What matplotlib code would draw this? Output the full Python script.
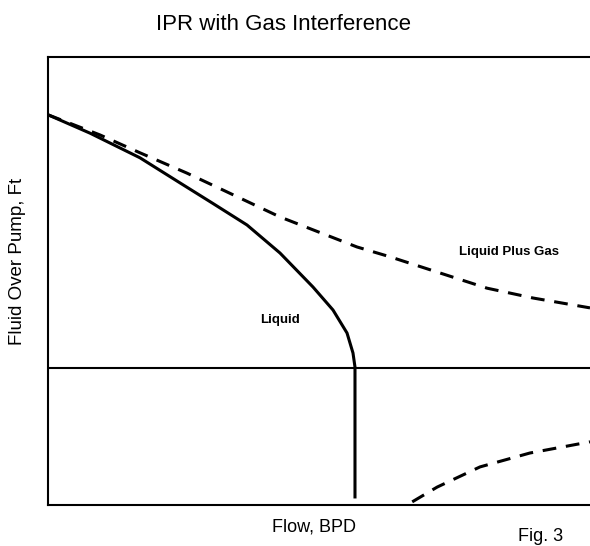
import matplotlib
matplotlib.use('Agg')
import matplotlib.pyplot as plt

plt.rcParams['font.family'] = ['Liberation Sans', 'DejaVu Sans']

# curves (flow and fluid level in relative units, 0..100)
liquid_flow = [0, 7.75, 16.97, 24.35, 30.44, 36.72, 42.80, 48.89, 52.58, 55.17,
               56.27, 56.64, 56.64]
liquid_level = [87.1, 83.0, 77.5, 71.9, 67.3, 62.5, 56.25, 48.66, 43.53, 38.39,
                33.93, 30.8, 1.8]

gas_flow = [0, 9.6, 17.0, 25.6, 32.3, 42.8, 57.0, 63.1, 72.3, 81.0, 89.5, 100]
gas_level = [87.1, 82.6, 78.6, 74.1, 70.3, 64.3, 57.6, 55.4, 51.8, 48.4, 46.2, 44.0]

gas_low_flow = [67.2, 71.8, 79.7, 88.9, 100]
gas_low_level = [0.7, 4.0, 8.5, 11.6, 14.1]

pump_level = 30.6

W, H = 590, 546
fig = plt.figure(figsize=(W / 100, H / 100), dpi=100)
ax = fig.add_axes([48 / W, 41 / H, 1 - 48 / W, 448 / H])

ax.plot(liquid_flow, liquid_level, color='black', lw=2.2, solid_joinstyle='round')
ax.plot(gas_flow, gas_level, color='black', lw=2.2, dashes=(4.5, 3.2))
ax.plot(gas_low_flow, gas_low_level, color='black', lw=2.2, dashes=(4.5, 3.2))
ax.axhline(pump_level, color='black', lw=1.5)

ax.text(42.8, 41.3, 'Liquid', fontsize=9.5, fontweight='bold', ha='center', va='center')
ax.text(85.0, 56.5, 'Liquid Plus Gas', fontsize=9.5, fontweight='bold', ha='center', va='center')

ax.set_xlim(0, 100)
ax.set_ylim(0, 100)
ax.set_xticks([])
ax.set_yticks([])
ax.spines['right'].set_visible(False)
for s in ['left', 'top', 'bottom']:
    ax.spines[s].set_linewidth(1.5)

fig.text(283 / W, 1 - 25 / H, 'IPR with Gas Interference', fontsize=16,
         ha='center', va='center')
fig.text(314 / W, 1 - 527 / H, 'Flow, BPD', fontsize=13, ha='center', va='center')
fig.text(18 / W, 1 - 261 / H, 'Fluid Over Pump, Ft', fontsize=13.5, rotation=90,
         ha='center', va='center')
fig.text(518 / W, 1 / H, 'Fig. 3', fontsize=13, ha='left', va='bottom')

fig.savefig('out.png', dpi=100)
